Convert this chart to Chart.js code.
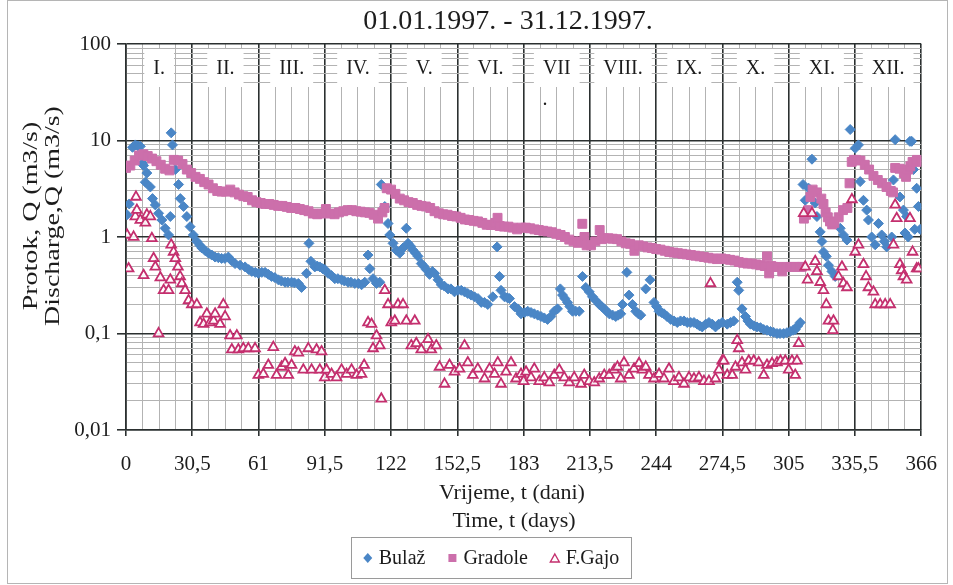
<!DOCTYPE html>
<html>
<head>
<meta charset="utf-8">
<script src="https://cdn.jsdelivr.net/npm/chart.js@4.4.1/dist/chart.umd.min.js"></script>
<style>
  html, body { margin: 0; padding: 0; background: #fff; }
  canvas { display: block; }
</style>
</head>
<body>
<canvas id="chart" width="953" height="585"></canvas>
<script>
// Naslovi i oznake
const chartTitle = '01.01.1997. - 31.12.1997.';
const yTitle = ['Protok, Q (m3/s)', 'Discharge,Q (m3/s)'];
const xTitle = ['Vrijeme, t (dani)', 'Time, t (days)'];
const monthLabels = ['I.', 'II.', 'III.', 'IV.', 'V.', 'VI.', 'VII', 'VIII.', 'IX.', 'X.', 'XI.', 'XII.'];
const seriesNames = ['Bulaž', 'Gradole', 'F.Gajo'];

// Bulaž [dan, Q]
const bulaz = [
  [0.5,1.7],[1.5,2.2],[3,8.5],[4.3,9.0],[5.5,8.8],[6.6,8.7],[7.5,5.8],[8.1,5.5],[8.9,3.7],[9.6,4.6],
  [11.2,3.3],[12.2,2.5],[13.5,2.15],[15,1.76],[16.5,1.5],[18,1.23],[19.6,1.05],[20.4,1.63],[20.8,12],[21.4,9.0],
  [22.7,5.0],[24.2,3.5],[25,2.5],[26.5,2.07],[28,1.63],[29.5,1.28],[31,1.05],[32.6,0.9],[34,0.82],[34.9,0.77],
  [36.5,0.72],[38,0.68],[39.5,0.65],[41,0.62],[42.5,0.61],[44,0.6],[45.5,0.6],[47.1,0.62],[48.5,0.57],[50.2,0.53],
  [52.5,0.51],[54.8,0.49],[56.5,0.46],[57.9,0.44],[59.5,0.43],[60.9,0.42],[62.5,0.43],[64,0.43],[65.5,0.41],[67,0.39],
  [68.5,0.38],[70.1,0.36],[71.5,0.35],[73.2,0.34],[74.5,0.34],[76.2,0.34],[77.5,0.335],[79.3,0.33],[80.8,0.3],[83.1,0.42],
  [84.2,0.86],[85.1,0.56],[86.9,0.49],[88,0.5],[89.2,0.49],[90.5,0.47],[91.5,0.46],[93,0.42],[94.5,0.4],[96.1,0.37],
  [97.5,0.37],[99.2,0.36],[100.5,0.35],[102.2,0.34],[103.5,0.34],[105.3,0.33],[107,0.33],[108.4,0.32],[109.9,0.34],[111.4,0.65],
  [112.2,0.47],[113.7,0.37],[115.3,0.33],[116.8,0.34],[117.5,3.5],[119.1,2.07],[120.6,1.38],[121.4,1.05],[122.9,0.86],[124.4,0.73],
  [126,0.68],[127.5,0.77],[129,1.23],[129.8,0.86],[131,0.8],[132.1,0.73],[133.3,0.68],[134.4,0.63],[135.9,0.53],[137,0.5],
  [138.2,0.46],[139.7,0.41],[141,0.44],[142,0.42],[143.6,0.36],[145.1,0.32],[146.5,0.31],[148.2,0.29],[149.5,0.29],[151.2,0.27],
  [152.8,0.28],[154.3,0.28],[155.8,0.27],[157.3,0.26],[158.8,0.25],[160.4,0.24],[162,0.23],[163.5,0.21],[165,0.21],[166.5,0.2],
  [168.8,0.24],[170.8,0.79],[171.9,0.39],[172.6,0.28],[174.2,0.24],[175.5,0.235],[176.5,0.23],[178.8,0.19],[180.3,0.18],[181.8,0.16],
  [183.5,0.165],[184.9,0.17],[186.4,0.165],[187.9,0.16],[189.5,0.155],[191,0.15],[192.5,0.145],[194,0.14],[195.5,0.15],[197.1,0.17],
  [198.6,0.18],[199.9,0.29],[200.9,0.25],[202,0.23],[203.2,0.21],[204.3,0.19],[205.5,0.17],[207,0.17],[208.6,0.17],[210.1,0.39],
  [211.6,0.3],[213.2,0.27],[214.7,0.24],[216.2,0.22],[217.8,0.2],[219,0.19],[220.1,0.18],[221.2,0.17],[222.4,0.16],[224,0.155],
  [225.4,0.15],[226.5,0.155],[227.7,0.16],[228.5,0.2],[230.5,0.43],[231.5,0.25],[233.1,0.2],[234.6,0.17],[235.8,0.16],[236.9,0.155],
  [239.2,0.29],[241.2,0.36],[243,0.21],[244.2,0.19],[245.3,0.17],[246.5,0.165],[247.6,0.16],[249,0.15],[250.7,0.14],[252.2,0.135],
  [253.7,0.13],[255.2,0.135],[256.8,0.135],[258.3,0.13],[259.9,0.13],[261.4,0.13],[262.9,0.125],[264,0.12],[265.2,0.117],[266.8,0.125],
  [268.3,0.13],[269.8,0.125],[271.3,0.117],[272.8,0.125],[274.4,0.13],[276.7,0.125],[278.2,0.13],[279.7,0.135],[281.3,0.34],[282,0.28],
  [283.5,0.18],[285.1,0.15],[286.2,0.135],[287.4,0.125],[289,0.12],[290.4,0.117],[292,0.115],[293.5,0.11],[295,0.108],[296.6,0.105],
  [298,0.103],[299.6,0.1],[301,0.1],[302.7,0.1],[304.2,0.102],[305.7,0.105],[307,0.108],[308,0.11],[309.2,0.12],[310.3,0.13],
  [311.6,3.5],[312.6,2.4],[314.2,3.2],[315.7,6.4],[317.2,2.25],[318,1.63],[319.5,1.13],[320.3,0.9],[321,0.7],[322.3,0.63],
  [323.3,0.51],[324.9,0.44],[326.4,0.39],[328.7,1.23],[330.2,1.05],[331.8,0.93],[333.3,13],[335.6,8.3],[337.1,9.0],[337.9,3.75],
  [339.4,2.4],[340.9,1.9],[341.7,1.5],[343.2,1.0],[344.8,0.83],[346.3,1.38],[347.8,1.05],[349,0.9],[350.1,0.79],[352.4,1.0],
  [353.2,3.9],[354,10.2],[356.2,2.6],[357.8,1.9],[358.5,1.1],[359.3,1.63],[360,1.0],[360.8,9.8],[361.6,9.8],[362.4,5.0],
  [363,1.2],[363.9,3.2],[364.7,2.07],[365.5,1.2]
];

// Gradole [dan, Q]
const gradole = [
  [0,5.2],[2,5.5],[4,6.2],[6,7.0],[8,7.2],[10,6.9],[12,6.5],[14,6.1],[16,5.6],[18,5.1],
  [20,4.9],[22,6.3],[24,6.2],[26,5.7],[28,5.0],[30,4.6],[32,4.2],[34,4.0],[36,3.7],[38,3.5],
  [40,3.2],[42,3.0],[44,2.95],[46,2.95],[48,3.1],[50,2.9],[52,2.75],[54,2.65],[56,2.6],[58,2.4],
  [60,2.3],[62,2.25],[64,2.2],[66,2.2],[68,2.15],[70,2.1],[72,2.1],[74,2.05],[76,2.0],[78,2.0],
  [80,1.95],[82,1.9],[84,1.85],[86,1.75],[88,1.72],[90,1.75],[92,1.95],[94,1.75],[96,1.72],[98,1.8],
  [100,1.85],[102,1.9],[104,1.9],[106,1.85],[108,1.83],[110,1.8],[112,1.78],[114,1.7],[116,1.55],[118,1.8],
  [119,2.0],[120,3.2],[122,3.1],[124,2.8],[126,2.5],[128,2.4],[130,2.3],[132,2.25],[134,2.15],[136,2.1],
  [138,2.07],[140,2.0],[142,1.85],[144,1.76],[146,1.72],[148,1.7],[150,1.65],[152,1.63],[154,1.58],[156,1.52],
  [158,1.5],[160,1.47],[162,1.45],[164,1.4],[166,1.34],[168,1.33],[170,1.4],[171,1.58],[172,1.3],[174,1.28],
  [176,1.28],[178,1.25],[180,1.2],[182,1.25],[184,1.25],[186,1.23],[188,1.2],[190,1.18],[192,1.16],[194,1.14],
  [196,1.12],[198,1.08],[200,1.05],[202,1.0],[204,0.94],[206,0.9],[208,0.87],[209,0.9],[210,1.37],[211,1.0],
  [212,0.82],[214,0.82],[216,0.9],[218,1.18],[219,0.95],[220,0.97],[222,0.97],[224,0.96],[226,0.95],[228,0.9],
  [230,0.86],[232,0.85],[234,0.72],[236,0.82],[238,0.8],[240,0.78],[242,0.77],[244,0.75],[246,0.74],[248,0.72],
  [250,0.7],[252,0.69],[254,0.68],[256,0.67],[258,0.66],[260,0.65],[262,0.64],[264,0.63],[266,0.62],[268,0.61],
  [270,0.6],[272,0.59],[274,0.6],[276,0.59],[278,0.58],[280,0.57],[282,0.55],[284,0.54],[286,0.53],[288,0.53],
  [290,0.52],[292,0.51],[294,0.5],[295,0.63],[296,0.42],[297,0.5],[298,0.49],[300,0.49],[302,0.44],[304,0.49],
  [306,0.49],[308,0.49],[310,0.49],[311,0.49],[312,1.55],[313,1.7],[314,1.9],[315,2.6],[316,3.1],[318,2.9],
  [320,2.5],[321,2.2],[322,1.8],[323,1.6],[324,1.45],[325,1.35],[326,1.4],[328,1.6],[330,1.9],[332,2.0],
  [333,3.6],[334,6.0],[335,6.3],[336,6.3],[338,6.2],[340,5.6],[342,5.0],[344,4.3],[346,3.9],[348,3.6],
  [350,3.3],[352,3.0],[353,2.9],[354,5.2],[356,5.1],[358,4.6],[359,4.2],[360,5.0],[361,5.4],[362,6.0],
  [364,6.3],[366,6.0]
];

// F.Gajo [dan, Q]
const fgajo = [
  [0.5,1.05],[1.2,0.47],[3.5,1.0],[4.3,1.63],[4.6,2.6],[5,1.9],[6.6,1.5],[8.1,0.4],[8.9,1.4],[9.6,1.7],
  [11.2,1.63],[11.9,0.97],[12.7,0.6],[13.5,0.49],[15,0.1],[15.8,0.38],[17.3,0.28],[19.6,0.28],[20.4,0.36],[20.8,0.83],
  [21.9,0.7],[22.7,0.6],[23.9,0.49],[24.9,0.39],[25.7,0.33],[27.2,0.28],[28.8,0.22],[30.3,0.2],[32.6,0.2],[34.1,0.13],
  [35.7,0.125],[37.2,0.16],[38.7,0.13],[40.3,0.135],[41,0.16],[43.3,0.125],[44.8,0.2],[45.6,0.15],[47.9,0.095],[48.7,0.068],
  [51,0.095],[51.7,0.068],[54,0.07],[56.3,0.07],[59.4,0.07],[60.9,0.037],[63.2,0.038],[65.5,0.047],[67.8,0.072],[69.3,0.037],
  [71.6,0.045],[73.2,0.049],[74.7,0.037],[76.2,0.047],[77.7,0.065],[79.3,0.063],[81.6,0.042],[83.9,0.07],[85.4,0.042],[87.7,0.068],
  [89.2,0.042],[90,0.065],[91.5,0.035],[92.3,0.042],[94.6,0.038],[96.9,0.035],[99.2,0.042],[101.5,0.038],[103.8,0.042],[106.1,0.037],
  [108.4,0.038],[109.6,0.047],[111.4,0.13],[113,0.125],[113.7,0.07],[115.3,0.095],[116.8,0.075],[117.5,0.021],[119.1,0.28],[120.6,0.2],
  [122.1,0.13],[123.7,0.135],[125.2,0.2],[127.5,0.2],[129,0.135],[131.3,0.075],[132.9,0.135],[133.6,0.079],[135.9,0.068],[139,0.087],
  [140.5,0.068],[142.8,0.075],[144.3,0.045],[146.6,0.03],[148.9,0.047],[151.2,0.04],[153.5,0.043],[155.8,0.075],[157.3,0.05],[159.6,0.037],
  [161.9,0.043],[165,0.034],[167.3,0.043],[169.6,0.038],[171.1,0.05],[172.6,0.03],[174.9,0.04],[177.2,0.05],[179.5,0.034],[181.8,0.038],
  [183,0.032],[184.1,0.04],[186.4,0.035],[187.9,0.043],[190.2,0.032],[192.5,0.035],[194.8,0.031],[197.1,0.037],[199.4,0.042],[201.7,0.035],
  [204,0.031],[206.3,0.035],[209.4,0.03],[210.9,0.037],[213.2,0.032],[215.5,0.031],[217.8,0.034],[220.1,0.037],[222.4,0.037],[224.7,0.042],
  [226.2,0.045],[227.7,0.034],[229.2,0.05],[231.5,0.037],[233.8,0.043],[236.1,0.049],[237.7,0.042],[239.2,0.045],[240.7,0.037],[243,0.034],
  [245.3,0.038],[247.6,0.034],[249.9,0.043],[252.2,0.032],[254.5,0.035],[256.8,0.03],[259.1,0.035],[261.4,0.034],[263.7,0.035],[266,0.032],
  [268.3,0.032],[269,0.33],[271.3,0.034],[272.9,0.042],[274.4,0.052],[275.1,0.052],[276.7,0.037],[279,0.037],[280.5,0.045],[281.3,0.085],
  [282,0.07],[283.5,0.05],[285.1,0.042],[286.6,0.052],[288.9,0.052],[291.2,0.05],[293.5,0.037],[295,0.047],[297.3,0.049],[299.6,0.05],
  [301.2,0.052],[303.4,0.052],[305,0.042],[306.5,0.052],[308,0.037],[308.8,0.052],[309.6,0.079],[311.9,1.76],[312.6,0.49],[313.7,0.36],
  [315.7,1.76],[317.2,0.56],[318,0.44],[319.5,0.34],[321,0.28],[322.3,0.2],[323.3,0.135],[325.3,0.108],[325.6,0.135],[327.9,0.39],
  [329.5,0.49],[330.2,0.33],[331.8,0.3],[334.1,2.45],[335.6,0.7],[337.1,0.83],[339.4,0.52],[340.6,0.39],[341.7,0.3],[344,0.27],
  [344.8,0.2],[347.1,0.2],[349.4,0.2],[351.7,0.2],[353.2,0.83],[354,2.15],[354.7,1.56],[356.2,0.52],[357,0.45],[357.8,0.39],
  [359.3,0.36],[360.8,1.56],[362,0.7],[363.9,0.47],[364.7,0.47]
];

// Osi
const xStep = 7.625;          // 30,5 / 4
const xMax = 366;
const yDecades = [0.01, 0.1, 1, 10, 100];

const BLUE = '#4a86c6';
const PINK = '#cc6fab';
const CRIMSON = '#c42f6e';
const INK = '#1c1c1c';
const FONT = '"Liberation Serif", "Times New Roman", serif';

const toXY = arr => arr.map(p => ({ x: p[0], y: p[1] }));
const fmt = v => String(+v.toPrecision(6)).replace('.', ',');
const isDecade = v => Math.abs(Math.log10(v) - Math.round(Math.log10(v))) < 1e-6;

// rotirani tekst, razvučen po duljini
function drawVertical(ctx, text, x, y, stretch) {
  ctx.save();
  ctx.translate(x, y);
  ctx.rotate(-Math.PI / 2);
  ctx.scale(stretch, 1);
  ctx.fillText(text, 0, 0);
  ctx.restore();
}

// Tekst, mjeseci, legenda
const extras = {
  id: 'extras',
  afterDraw(chart) {
    const { ctx, scales: { x } } = chart;
    ctx.save();

    // okvir oko cijele slike
    ctx.strokeStyle = '#b5b5b5';
    ctx.lineWidth = 1;
    ctx.strokeRect(7.5, 0.5, 940, 583);

    // mjeseci
    ctx.font = '20px ' + FONT;
    ctx.textAlign = 'center';
    ctx.textBaseline = 'middle';
    monthLabels.forEach((m, i) => {
      const cx = x.getPixelForValue(i * 30.5 + 15.25);
      const w = ctx.measureText(m).width + 18;
      ctx.fillStyle = '#fff';
      ctx.fillRect(cx - w / 2, 49, w, 38);
      ctx.fillStyle = INK;
      ctx.fillText(m, cx, 69);
    });
    ctx.fillText('.', 545, 100);

    // naslov
    ctx.font = '28px ' + FONT;
    ctx.fillText(chartTitle, 508, 22);

    // naslovi osi
    ctx.font = '22px ' + FONT;
    ctx.fillText(xTitle[0], 512, 493);
    ctx.fillText(xTitle[1], 514, 521);
    ctx.font = '21px ' + FONT;
    drawVertical(ctx, yTitle[0], 31, 216, 1.33);
    drawVertical(ctx, yTitle[1], 53, 216, 1.33);

    // legenda
    const ly = 558;
    ctx.font = '20px ' + FONT;
    ctx.textAlign = 'left';
    const ws = seriesNames.map(s => ctx.measureText(s).width);
    const gap = 22, mk = 10, pad = 12;
    const total = ws.reduce((a, w) => a + mk + 6 + w, 0) + 2 * gap;
    let lx = 491 - total / 2;
    ctx.strokeStyle = '#9a9a9a';
    ctx.strokeRect(Math.round(lx - pad) + 0.5, 537.5, Math.round(total + 2 * pad), 41);

    ctx.fillStyle = BLUE;
    ctx.beginPath();
    ctx.moveTo(lx + 5, ly - 5); ctx.lineTo(lx + 9.5, ly); ctx.lineTo(lx + 5, ly + 5); ctx.lineTo(lx + 0.5, ly);
    ctx.closePath(); ctx.fill();
    ctx.fillStyle = INK;
    ctx.fillText(seriesNames[0], lx + mk + 6, ly + 1);
    lx += mk + 6 + ws[0] + gap;

    ctx.fillStyle = PINK;
    ctx.fillRect(lx + 1, ly - 4, 8, 8);
    ctx.fillStyle = INK;
    ctx.fillText(seriesNames[1], lx + mk + 6, ly + 1);
    lx += mk + 6 + ws[1] + gap;

    ctx.strokeStyle = CRIMSON;
    ctx.lineWidth = 1.4;
    ctx.beginPath();
    ctx.moveTo(lx + 5, ly - 4); ctx.lineTo(lx + 9.5, ly + 4); ctx.lineTo(lx + 0.5, ly + 4);
    ctx.closePath(); ctx.stroke();
    ctx.fillStyle = INK;
    ctx.fillText(seriesNames[2], lx + mk + 6, ly + 1);

    ctx.restore();
  }
};

new Chart(document.getElementById('chart'), {
  type: 'scatter',
  data: {
    datasets: [
      {
        label: seriesNames[0],
        data: toXY(bulaz),
        pointStyle: 'rectRot',
        pointRadius: 5,
        backgroundColor: BLUE,
        borderColor: BLUE,
        borderWidth: 1,
        order: 3
      },
      {
        label: seriesNames[1],
        data: toXY(gradole),
        pointStyle: 'rect',
        pointRadius: 6.3,
        backgroundColor: PINK,
        borderColor: PINK,
        borderWidth: 1,
        order: 2
      },
      {
        label: seriesNames[2],
        data: toXY(fgajo),
        pointStyle: 'triangle',
        pointRadius: 5.6,
        backgroundColor: 'rgba(255,255,255,0.9)',
        borderColor: CRIMSON,
        borderWidth: 1.8,
        order: 1
      }
    ]
  },
  options: {
    responsive: false,
    animation: false,
    devicePixelRatio: 1,
    layout: { padding: { top: 44, right: 30, left: 0, bottom: 0 } },
    plugins: {
      legend: { display: false },
      title: { display: false },
      tooltip: { enabled: false }
    },
    scales: {
      x: {
        type: 'linear',
        min: 0,
        max: xMax,
        afterBuildTicks: s => {
          s.ticks = Array.from({ length: 49 }, (_, i) => ({ value: i * xStep }));
        },
        afterFit: s => { s.height = 155; },
        ticks: {
          autoSkip: false,
          maxRotation: 0,
          padding: 16,
          color: INK,
          font: { family: FONT, size: 21 },
          callback: (v, i) => (i % 4 === 0 ? fmt(v) : '')
        },
        grid: {
          color: c => (c.index % 4 === 0 ? '#2b3030' : '#b3b3b3'),
          lineWidth: c => (c.index % 4 === 0 ? 1.6 : 1),
          tickColor: c => (c.index % 4 === 0 ? '#2b3030' : 'rgba(0,0,0,0)'),
          tickLength: 6
        },
        border: { display: true, color: '#2b3030', width: 1.6 }
      },
      y: {
        type: 'logarithmic',
        min: yDecades[0],
        max: yDecades[yDecades.length - 1],
        afterBuildTicks: s => {
          const t = [];
          for (let d = -2; d <= 1; d++) {
            for (let k = 1; k <= 9; k++) t.push({ value: +(k * Math.pow(10, d)).toPrecision(3) });
          }
          t.push({ value: 100 });
          s.ticks = t;
        },
        afterFit: s => { s.width = 126; },
        ticks: {
          autoSkip: false,
          padding: 6,
          color: INK,
          font: { family: FONT, size: 21 },
          callback: v => (isDecade(v) ? fmt(v) : '')
        },
        grid: {
          color: c => {
            const v = c.tick.value;
            if (isDecade(v)) return '#2b3030';
            if (v === 20 || v === 30) return 'rgba(0,0,0,0)';
            return '#b3b3b3';
          },
          lineWidth: c => (isDecade(c.tick.value) ? 1.6 : 1),
          tickColor: c => (isDecade(c.tick.value) ? '#2b3030' : 'rgba(0,0,0,0)'),
          tickLength: 9
        },
        border: { display: true, color: '#2b3030', width: 1.6 }
      }
    }
  },
  plugins: [extras]
});
</script>
</body>
</html>
